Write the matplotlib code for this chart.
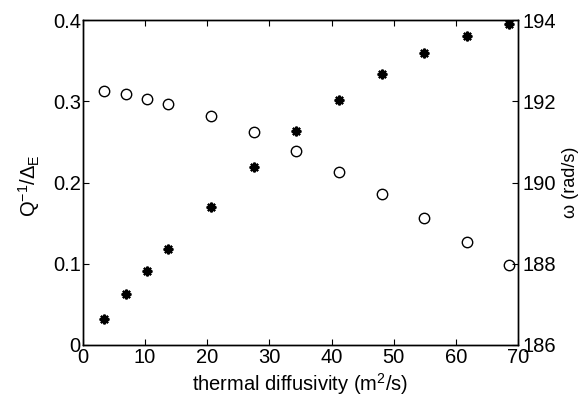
import numpy as np
import matplotlib
matplotlib.use('Agg')
import matplotlib.pyplot as plt

plt.rcParams['font.family'] = ['Liberation Sans', 'DejaVu Sans']
plt.rcParams['mathtext.fontset'] = 'custom'
plt.rcParams['mathtext.rm'] = 'Liberation Sans'
plt.rcParams['mathtext.it'] = 'Liberation Sans'

# thermal diffusivity (m^2/s)
diffusivity = [3.45, 6.85, 10.3, 13.75, 20.6, 27.45, 34.35, 41.2, 48.1, 54.95, 61.85, 68.6]
# normalised loss Q^-1/Delta_E (circles, left axis)
q_inv = [0.3125, 0.3085, 0.303, 0.297, 0.282, 0.262, 0.239, 0.2133, 0.1855, 0.156, 0.1268, 0.098]
# frequency omega (rad/s) (stars, right axis)
omega = [186.64, 187.25, 187.82, 188.36, 189.41, 190.39, 191.26, 192.03, 192.68, 193.2, 193.62, 193.9]

fs = 14.5

fig = plt.figure(figsize=(5.8, 4.03), dpi=100)
ax = fig.add_axes([0.143, 0.144, 0.75, 0.806])
ax2 = ax.twinx()

ax.plot(diffusivity, q_inv, linestyle='none', marker='o', markersize=7.5,
        markerfacecolor='none', markeredgecolor='black', markeredgewidth=1.0)
ax2.plot(diffusivity, omega, linestyle='none', marker=(8, 2, 0), markersize=7,
         color='black', markeredgewidth=1.6)

ax.set_xlim(0, 70)
ax.set_ylim(0, 0.4)
ax2.set_ylim(186, 194)
ax.set_xticks(np.arange(0, 71, 10))
ax.set_yticks([0, 0.1, 0.2, 0.3, 0.4])
ax.set_yticklabels(['0', '0.1', '0.2', '0.3', '0.4'])
ax2.set_yticks([186, 188, 190, 192, 194])

for a in (ax, ax2):
    a.tick_params(direction='in', labelsize=fs, length=4, width=0.8)
    for s in a.spines.values():
        s.set_linewidth(1.0)
ax.tick_params(top=True, axis='x', pad=2)
ax.tick_params(axis='y', pad=1.5)
ax2.tick_params(pad=3)

ax.set_xlabel('thermal diffusivity (m$^2$/s)', fontsize=fs, labelpad=3)
ax.set_ylabel('Q$^{-1}$/$\\Delta_E$', fontsize=fs)
ax.yaxis.set_label_coords(-0.094, 0.49)
ax2.set_ylabel('ω (rad/s)', fontsize=13, rotation=90)
ax2.yaxis.set_label_coords(1.101, 0.50)

fig.savefig('out.png', dpi=100)
